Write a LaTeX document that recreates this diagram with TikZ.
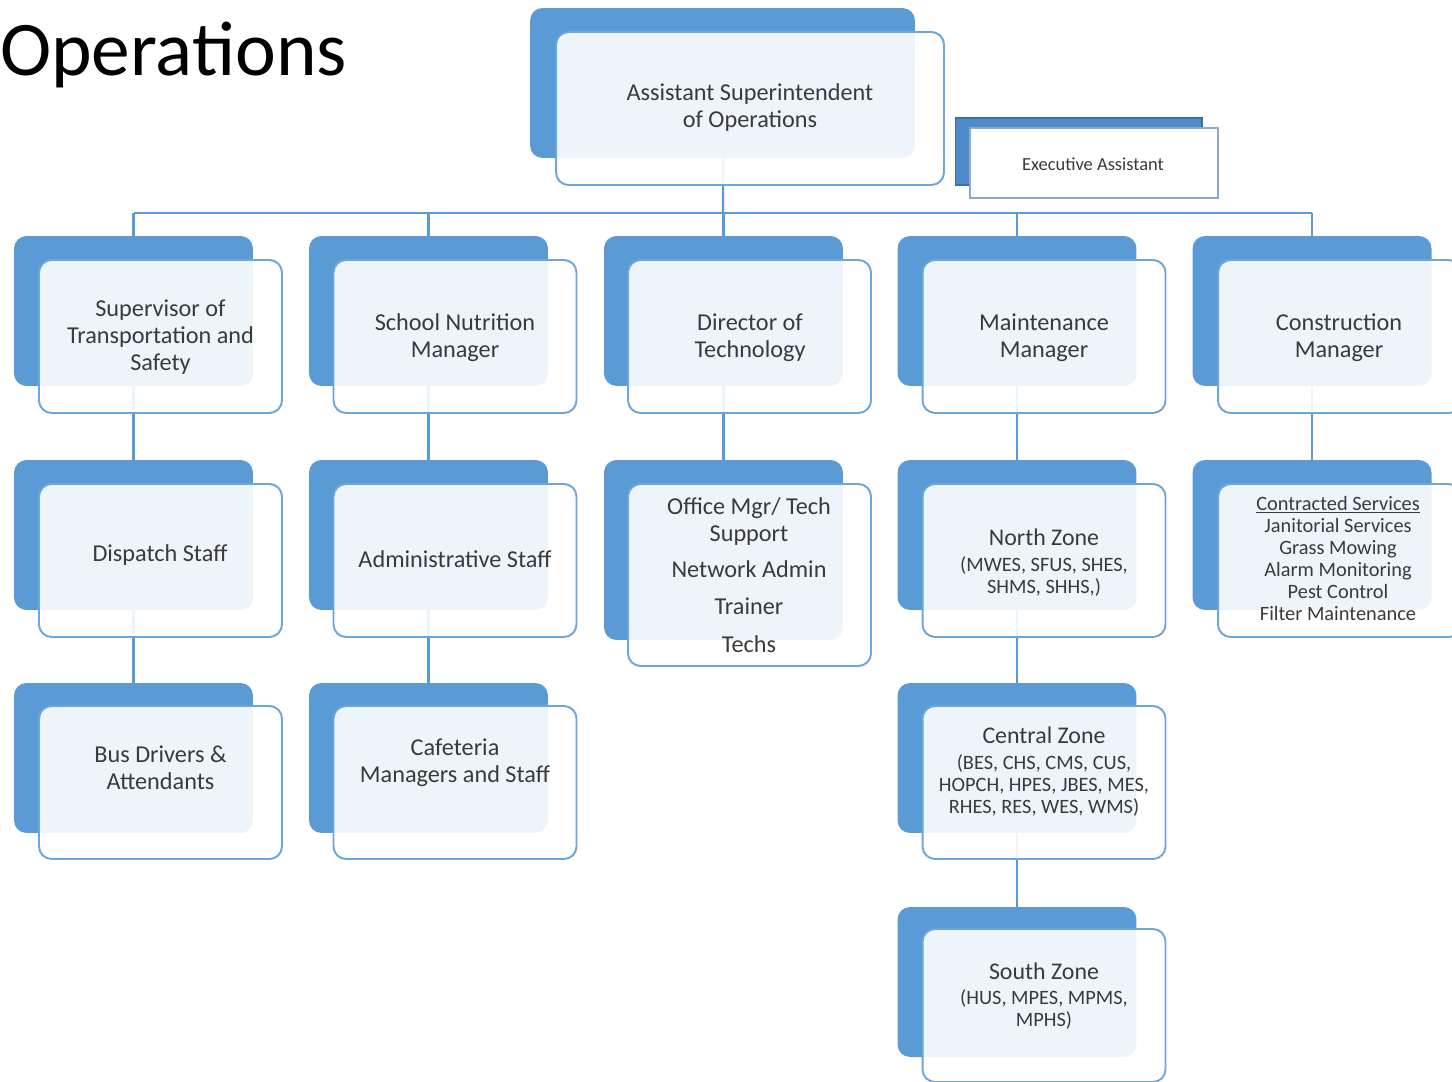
\documentclass[tikz,border=0pt]{standalone}
\usepackage{fontspec}
\setmainfont{Carlito}
\definecolor{boxblue}{HTML}{5B9BD5}
\definecolor{edgeblue}{HTML}{6CA6DB}
\definecolor{execback}{HTML}{4F8BCB}
\definecolor{execedge}{HTML}{8FA9CB}
\definecolor{inkgray}{HTML}{3A3A3A}
\pgfdeclarelayer{bg}
\pgfsetlayers{bg,main}
\newcommand{\zonehead}{\fontsize{13.6}{15}\selectfont}
\tikzset{
    backbox/.style={fill=boxblue, rounded corners=0.25cm, inner sep=0pt,
        minimum width=4.78cm, minimum height=3cm},
    frontbox/.style={draw=edgeblue, line width=1.1pt, fill=white, fill opacity=0.9,
        rounded corners=0.25cm, inner sep=0pt, minimum width=4.86cm, minimum height=3.06cm},
    txt/.style={align=center, text=inkgray, inner sep=0pt,
        font=\fontsize{13.8}{15.3}\selectfont},
    small/.style={txt, font=\fontsize{11.6}{12.6}\selectfont},
    link/.style={draw=boxblue, line width=1.3pt}
}

\begin{document}
\begin{tikzpicture}[x=0.02cm, y=-0.02cm]
    \path[use as bounding box] (0,0) rectangle (1452,1081);
    \clip (0,0) rectangle (1452,1081);

    \node[anchor=base west, font=\fontsize{44}{50}\selectfont] (title) at (-6,76) {Operations};

    % top of the chart
    \node[backbox, minimum width=7.7cm] (asob) at (722.5,83) {};
    \node[frontbox, minimum width=7.76cm] (asof) at (750,108.5) {};
    \node[txt] (asot) at (750,107.5) {Assistant Superintendent\\of Operations};

    \node[fill=execback, draw=execback!80!black, line width=0.6pt, inner sep=0pt,
        minimum width=4.94cm, minimum height=1.34cm] (exeb) at (1078.5,151.5) {};
    \node[fill=white, draw=execedge, line width=1.6pt, inner sep=0pt,
        minimum width=4.96cm, minimum height=1.4cm] (exef) at (1094,163) {};
    \node[txt, font=\fontsize{10.5}{12}\selectfont] (exet) at (1093,164) {Executive Assistant};

    % first row
    \node[backbox] (supb) at (133.5,311) {};
    \node[frontbox] (supf) at (160.5,336.5) {};
    \node[txt] (supt) at (160.5,337) {Supervisor of\\Transportation and\\Safety};

    \node[backbox] (nutb) at (428.5,311) {};
    \node[frontbox] (nutf) at (455,336.5) {};
    \node[txt] (nutt) at (455,337.5) {School Nutrition\\Manager};

    \node[backbox] (dirb) at (723.5,311) {};
    \node[frontbox] (dirf) at (749.5,336.5) {};
    \node[txt] (dirt) at (750,337.5) {Director of\\Technology};

    \node[backbox] (mntb) at (1017,311) {};
    \node[frontbox] (mntf) at (1044,336.5) {};
    \node[txt] (mntt) at (1044,337.5) {Maintenance\\Manager};

    \node[backbox] (conb) at (1312,311) {};
    \node[frontbox] (conf) at (1339.5,336.5) {};
    \node[txt] (cont) at (1339,337.5) {Construction\\Manager};

    % second row
    \node[backbox] (dspb) at (133.5,535) {};
    \node[frontbox] (dspf) at (160.5,560.5) {};
    \node[txt] (dspt) at (160,555) {Dispatch Staff};

    \node[backbox] (admb) at (428.5,535) {};
    \node[frontbox] (admf) at (455,560.5) {};
    \node[txt] (admt) at (455,559) {Administrative Staff};

    \node[backbox, minimum height=3.6cm] (ofcb) at (723.5,550) {};
    \node[frontbox, minimum height=3.64cm] (ofcf) at (749.5,575) {};
    \node[txt] (ofct) at (749,575) {Office Mgr/ Tech\\Support\\[5pt]Network Admin\\[6pt]Trainer\\[6pt]Techs};

    \node[backbox] (nthb) at (1017,535) {};
    \node[frontbox] (nthf) at (1044,560.5) {};
    \node[small] (ntht) at (1044,563) {{\zonehead North Zone}\\[2pt](MWES, SFUS, SHES,\\SHMS, SHHS,)};

    \node[backbox] (ctrb) at (1312,535) {};
    \node[frontbox] (ctrf) at (1339.5,560.5) {};
    \node[small] (ctrt) at (1338,558.5) {\underline{Contracted Services}\\Janitorial Services\\Grass Mowing\\Alarm Monitoring\\Pest Control\\Filter Maintenance};

    % third row
    \node[backbox] (drvb) at (133.5,758) {};
    \node[frontbox] (drvf) at (160.5,782.5) {};
    \node[txt] (drvt) at (160.5,768) {Bus Drivers \&\\Attendants};

    \node[backbox] (cafb) at (428.5,758) {};
    \node[frontbox] (caff) at (455,782.5) {};
    \node[txt] (caft) at (455,763) {Cafeteria\\Managers and Staff};

    \node[backbox] (cenb) at (1017,758) {};
    \node[frontbox] (cenf) at (1044,782.5) {};
    \node[small] (cent) at (1044,772) {{\zonehead Central Zone}\\[2pt](BES, CHS, CMS, CUS,\\HOPCH, HPES, JBES, MES,\\RHES, RES, WES, WMS)};

    % fourth row
    \node[backbox] (sthb) at (1017,982) {};
    \node[frontbox] (sthf) at (1044,1005.5) {};
    \node[small] (stht) at (1044,996) {{\zonehead South Zone}\\[2pt](HUS, MPES, MPMS,\\MPHS)};

    % connectors behind the boxes
    \begin{pgfonlayer}{bg}
        \fill[white] (0,0) rectangle (1452,1081);
        \coordinate (bus) at (723,213);
        \draw[link] (asob) -- (bus);
        \draw[link] (supb |- bus) -- (conb |- bus);
        \foreach \n in {supb,nutb,dirb,mntb,conb}
            \draw[link] (\n |- bus) -- (\n);
        \draw[link] (supb) -- (dspb) -- (drvb);
        \draw[link] (nutb) -- (admb) -- (cafb);
        \draw[link] (dirb) -- (ofcb);
        \draw[link] (mntb) -- (nthb) -- (cenb) -- (sthb);
        \draw[link] (conb) -- (ctrb);
    \end{pgfonlayer}
\end{tikzpicture}
\end{document}
